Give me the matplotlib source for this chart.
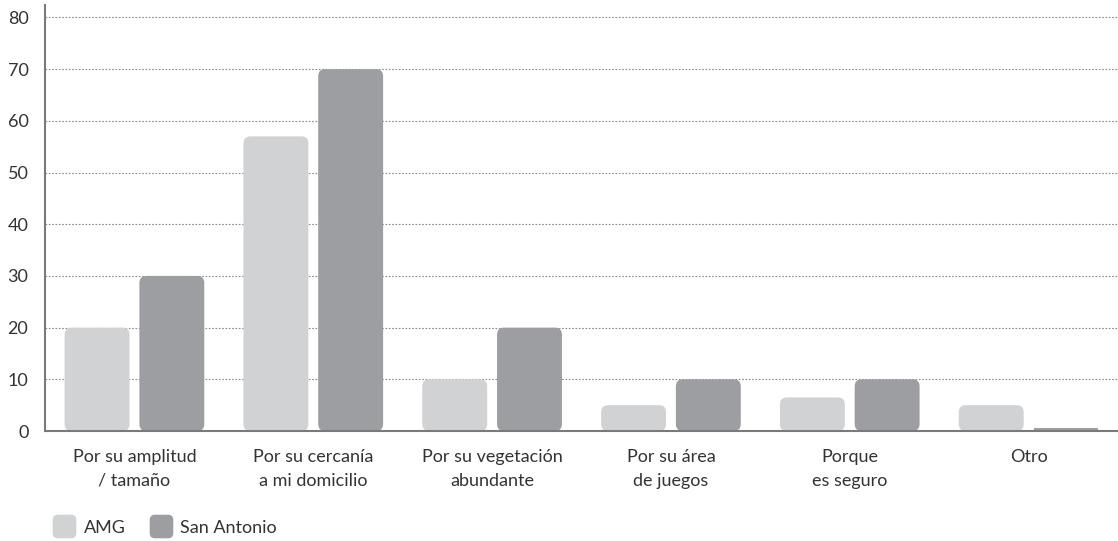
import matplotlib.pyplot as plt
from matplotlib.patches import FancyBboxPatch, BoxStyle
from matplotlib.lines import Line2D
import numpy as np

plt.rcParams['font.family'] = ['Lato', 'DejaVu Sans']

categories = ['Por su amplitud\n/ tamaño', 'Por su cercanía\na mi domicilio',
              'Por su vegetación\nabundante', 'Por su área\nde juegos',
              'Porque\nes seguro', 'Otro']
amg = [20, 57, 10, 5, 6.5, 5]
san_antonio = [30, 70, 20, 10, 10, 0.5]
series_names = ['AMG', 'San Antonio']
yticks = [0, 10, 20, 30, 40, 50, 60, 70, 80]

c_light = '#d1d2d4'
c_dark = '#9d9ea2'
txt = '#333333'

fig = plt.figure(figsize=(11.18, 5.41), dpi=100)
ax = fig.add_axes([0.0403, 0.2033, 0.9597, 0.7874])

x = np.arange(len(categories))
w = 0.363
off = 0.209
b1 = ax.bar(x - off, amg, w, color=c_light)
b2 = ax.bar(x + off, san_antonio, w, color=c_dark)

ax.set_xlim(-0.5, 5.5)
ax.set_ylim(0, 82.4)

# swap plain bars for rounded ones
fig.canvas.draw()
px_x = (ax.get_xlim()[1] - ax.get_xlim()[0]) / ax.bbox.width
px_y = (ax.get_ylim()[1] - ax.get_ylim()[0]) / ax.bbox.height
aspect = px_y / px_x
r = 7 * px_x
for bars in (b1, b2):
    for rect in bars:
        h = rect.get_height()
        rr = min(r, h / aspect / 2)
        if rr < 1.5 * px_x:
            continue
        rect.set_visible(False)
        p = FancyBboxPatch((rect.get_x(), rect.get_y()), rect.get_width(), h,
                           boxstyle=f"round,pad=0,rounding_size={rr}",
                           mutation_aspect=aspect, facecolor=rect.get_facecolor(),
                           edgecolor='none', zorder=2)
        ax.add_patch(p)

ax.set_yticks(yticks)
ax.yaxis.grid(True, linestyle=(0, (1.5, 1.5)), color='#8a8a8a', linewidth=0.8)
ax.set_axisbelow(True)
ax.tick_params(axis='y', length=0, pad=12, labelsize=13, labelcolor=txt)
ax.set_xticks(x)
ax.set_xticklabels(categories, fontsize=13, color=txt, linespacing=1.6)
ax.tick_params(axis='x', length=0, pad=13)

for s in ['top', 'right']:
    ax.spines[s].set_visible(False)
for s in ['left', 'bottom']:
    ax.spines[s].set_color('#7a7a7a')
    ax.spines[s].set_linewidth(1.5)

# rounded square marker for the legend
rsq = BoxStyle.Round(pad=0, rounding_size=0.22)(-0.5, -0.5, 1, 1, 1)
handles = [Line2D([], [], marker=rsq, linestyle='none', markersize=17,
                  markerfacecolor=c, markeredgecolor='none')
           for c in (c_light, c_dark)]
fig.legend(handles, series_names, loc='lower left', bbox_to_anchor=(0.027, -0.02),
           ncol=2, frameon=False, fontsize=13, handletextpad=0.05,
           columnspacing=1.0, labelcolor=txt)

fig.savefig('out.png', dpi=100)
